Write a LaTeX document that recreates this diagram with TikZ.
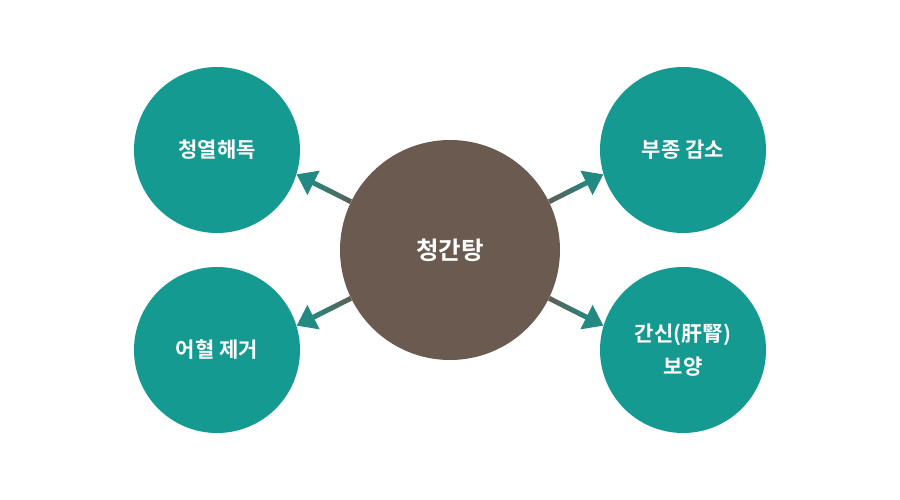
\documentclass[tikz,border=0pt]{standalone}
\usepackage{fontspec}
\setmainfont{Noto Sans CJK KR}[BoldFont={Noto Sans CJK KR Bold}]
\usetikzlibrary{arrows.meta,calc}
\definecolor{teal1}{HTML}{149A90}
\definecolor{brown1}{HTML}{6A5A4F}
\definecolor{tailc}{HTML}{5A5F56}
\definecolor{tipc}{HTML}{1A9088}
\newcommand\gradconn[2]{%
  \foreach \i in {0,...,11}{%
    \pgfmathsetmacro\p{\i*100/14}%
    \draw[shaft,draw=tipc!\p!tailc] ($(#1)!{\i*0.06}!(#2)$) -- ($(#1)!{(\i+1)*0.06+0.005}!(#2)$);
  }%
  \draw[shaft,draw=tipc!88!tailc,fill=tipc,-{Triangle[length=19pt,width=26pt]}] ($(#1)!0.71!(#2)$) -- (#2);
}
\begin{document}
\begin{tikzpicture}[x=1pt,y=-1pt,
  outer/.style={circle,fill=teal1,minimum size=166pt,inner sep=0pt,text=white,font=\fontsize{21}{33}\selectfont\bfseries,align=center},
  center/.style={circle,fill=brown1,minimum size=220pt,inner sep=0pt,text=white,font=\fontsize{24.5}{28}\selectfont\bfseries},
  shaft/.style={line width=5pt,line cap=butt}]
\useasboundingbox (0,0) rectangle (900,500);
\node[outer] (tl) at (217,150) {청열해독};
\node[outer] (bl) at (217,350) {어혈 제거};
\node[outer] (tr) at (683,150) {부종 감소};
\node[outer] (br) at (683,350) {간신(肝腎)\\보양};
\node[center] (c) at (450,250) {청간탕};
\gradconn{c.154}{tl.-17}
\gradconn{c.206}{bl.17}
\gradconn{c.26}{tr.197}
\gradconn{c.-26}{br.163}
\end{tikzpicture}
\end{document}
